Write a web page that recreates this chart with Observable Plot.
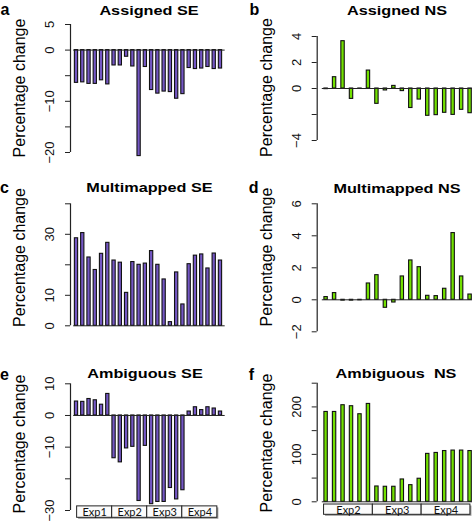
<!DOCTYPE html>
<html><head><meta charset="utf-8">
<script src="https://cdn.jsdelivr.net/npm/d3@7"></script>
<script src="https://cdn.jsdelivr.net/npm/@observablehq/plot@0.6"></script>
<style>
body{margin:0;background:#fff;}
#wrap{position:relative;width:472px;height:524px;overflow:hidden;font-family:"Liberation Sans",Arial,sans-serif;background:#fff;}
.p{position:absolute;}
#over{position:absolute;left:0;top:0;pointer-events:none;}
</style></head><body><div id="wrap"></div>
<script>
// ---- data ----
const assignedSE = [-6.4,-6.3,-6.6,-6.6,-5.9,-6.7,-3.0,-3.0,-1.3,-3.2,-20.7,-3.3,-7.8,-8.5,-8.1,-8.2,-9.5,-8.6,-3.5,-3.7,-3.6,-3.3,-3.7,-3.6];
const assignedNS = [-0.05,0.87,3.64,-0.8,-0.03,1.38,-1.18,-0.15,0.2,-0.2,-1.5,-0.85,-2.1,-2.05,-1.87,-2.03,-1.64,-1.9];
const multiSE = [28.7,30.4,22.4,18.3,23.6,27.2,21.4,20.7,10.8,20.9,20.0,20.4,24.5,20.0,15.2,1.2,17.5,7.0,20.2,23.0,23.4,18.8,23.7,21.4];
const multiNS = [0.17,0.42,-0.05,-0.05,-0.03,1.02,1.54,-0.5,-0.17,1.46,2.46,2.04,0.25,0.23,0.69,4.17,1.46,0.33];
const ambSE = [4.4,4.3,5.2,4.8,3.4,6.8,-13.5,-14.8,-10.4,-9.9,-27.0,-9.6,-28.0,-27.3,-27.3,-22.9,-26.5,-23.6,1.25,2.6,1.7,2.6,2.2,1.25];
const ambNS = [189.4,189.4,203.6,201.5,184.6,206.3,32.3,31.7,31.7,47.1,35.1,48.6,101,103,107,108,108,107];
const expSE = ["Exp1","Exp2","Exp3","Exp4"];
const expNS = ["Exp2","Exp3","Exp4"];
const titles = ["Assigned SE","Assigned NS","Multimapped SE","Multimapped NS","Ambiguous SE","Ambiguous  NS"];
const letters = ["a","b","c","d","e","f"];
const yLabel = "Percentage change";
const ticksA = [-20,-15,-10,-5,0,5], labelsA = [5,0,-10,-20];
const ticksB = [-4,-2,0,2,4], labelsB = [4,2,0,-4];
const ticksC = [0,10,20,30,40], labelsC = [30,10,0];
const ticksD = [-2,0,2,4,6], labelsD = [6,4,2,0,-2];
const ticksE = [-30,-20,-10,0,10], labelsE = [10,0,-10,-30];
const ticksF = [0,50,100,150,200,250], labelsF = [200,100,0];

const PURPLE = "#7457c4", GREEN = "#72e000";
const fmt = d => (d < 0 ? "\u2212" + Math.abs(d) : String(d));
const wrap = document.getElementById("wrap");

function drawPanel(c) {
  const n = c.values.length;
  const rows = c.values.map((v, i) => ({i, v}));
  const xd = [(c.axisX - c.x0) / c.sp, (c.width - c.x0) / c.sp];
  const tmin = d3.min(c.ticks), tmax = d3.max(c.ticks);
  const marks = [
    Plot.rectY(rows, {x1: d => d.i - c.half, x2: d => d.i + c.half, y1: () => 0, y2: d => d.v,
      fill: c.fill, stroke: "#111", strokeWidth: 1.1}),
    Plot.ruleY([0], {x1: () => -0.45, x2: () => n - 1 + 0.75, stroke: "#222", strokeWidth: 1}),
    Plot.ruleX([xd[0]], {y1: () => tmin, y2: () => tmax, stroke: "#222", strokeWidth: 1.2}),
    Plot.axisY({ticks: c.ticks, tickSize: 5, tickFormat: () => "", stroke: "#222"}),
    Plot.text(c.labels, {x: () => xd[0], y: d => d, text: fmt, rotate: -90, dx: -16.5,
      lineAnchor: "bottom", textAnchor: "middle", fontSize: 13, fill: "#111",
      fontFamily: "Liberation Sans, Arial, sans-serif"})
  ];
  if (c.groups) {
    const boxes = c.groups.map((g, k) => ({g, a: c.boxStart + k * c.boxW, b: c.boxStart + (k + 1) * c.boxW}));
    marks.push(
      Plot.rect(boxes, {x1: "a", x2: "b", y1: () => c.boxY[0], y2: () => c.boxY[1], fill: "#9a9a9a", dx: 1.5, dy: 1.5}),
      Plot.rect(boxes, {x1: "a", x2: "b", y1: () => c.boxY[0], y2: () => c.boxY[1], fill: "#fbfbfb", stroke: "#222", strokeWidth: 1}),
      Plot.text(boxes, {x: d => (d.a + d.b) / 2, y: () => (c.boxY[0] + c.boxY[1]) / 2, text: "g",
        fontFamily: "Lato, sans-serif", fontSize: 11, fill: "#111", dy: 0.5})
    );
  }
  const svg = Plot.plot({
    width: c.width, height: c.height,
    marginLeft: c.axisX, marginRight: 0, marginTop: c.mt, marginBottom: c.mb,
    x: {type: "linear", domain: xd, axis: null},
    y: {domain: [tmin, tmax], axis: null},
    style: {background: "transparent", overflow: "visible"},
    marks
  });
  const div = document.createElement("div");
  div.className = "p";
  div.style.left = c.left + "px";
  div.style.top = c.top + "px";
  div.appendChild(svg);
  wrap.appendChild(div);
}

const SE = {axisX: 70, x0: 76, sp: 6.26, half: 0.26, width: 236, fill: PURPLE};
const NS = {axisX: 80.7, x0: 89.6, sp: 8.47, half: 0.2, width: 236, fill: GREEN};

drawPanel({...SE, values: assignedSE, left: 0, top: 0, height: 170, mt: 24, mb: 18, ticks: ticksA, labels: labelsA});
drawPanel({...NS, values: assignedNS, left: 236, top: 0, height: 170, mt: 36, mb: 30, ticks: ticksB, labels: labelsB});
drawPanel({...SE, values: multiSE, left: 0, top: 170, height: 170, mt: 33.3, mb: 14.7, ticks: ticksC, labels: labelsC});
drawPanel({...NS, values: multiNS, left: 236, top: 170, height: 170, mt: 33.3, mb: 8.7, ticks: ticksD, labels: labelsD});
drawPanel({...SE, values: ambSE, left: 0, top: 340, height: 184, mt: 43.3, mb: 14, ticks: ticksE, labels: labelsE,
  groups: expSE, boxStart: 0.1, boxW: 5.6, boxY: [-28.7, -32.3]});
drawPanel({...NS, values: ambNS, left: 236, top: 340, height: 184, mt: 42.7, mb: 22.7, ticks: ticksF, labels: labelsF,
  groups: expNS, boxStart: -0.24, boxW: 5.76, boxY: [-5.7, -27.4]});

// ---- overlay text: titles, panel letters, y labels ----
const over = d3.select(wrap).append("svg").attr("id", "over").attr("width", 472).attr("height", 524)
  .style("font-family", "Liberation Sans, Arial, sans-serif");
const titlePos = [[149, 15], [397, 15], [149.5, 192], [397, 193.3], [145, 377.7], [396, 377.7]];
const letterPos = [[0.5, 15], [249.5, 15], [0, 193.3], [248.7, 193.3], [0, 380], [248.7, 380]];
const ylabPos = [[25, 88], [271.5, 87.5], [25, 257.5], [271.5, 257], [25, 444], [271.5, 443]];
titles.forEach((t, k) => {
  over.append("text").attr("transform", `translate(${titlePos[k][0]},${titlePos[k][1]}) scale(1.3,1)`)
    .attr("text-anchor", "middle").attr("font-weight", "bold").attr("font-size", 12.5)
    .style("white-space", "pre").attr("fill", "#000").text(t);
  over.append("text").attr("x", letterPos[k][0]).attr("y", letterPos[k][1])
    .attr("font-weight", "bold").attr("font-size", 16).attr("fill", "#000").text(letters[k]);
  over.append("text").attr("transform", `translate(${ylabPos[k][0]},${ylabPos[k][1]}) rotate(-90)`)
    .attr("text-anchor", "middle").attr("font-size", 16).attr("fill", "#000").text(yLabel);
});
</script>
</body></html>
